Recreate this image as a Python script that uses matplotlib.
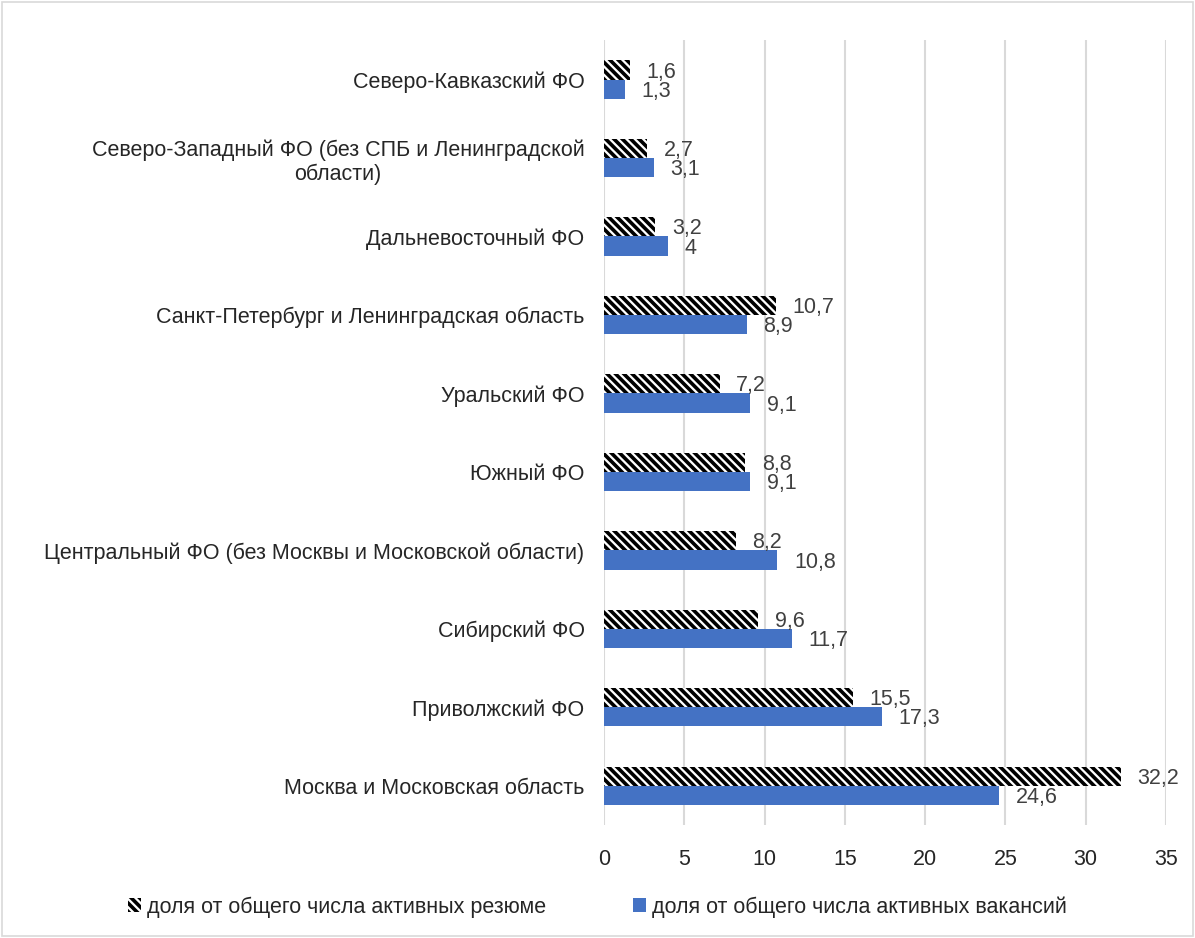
import numpy as np
import matplotlib.pyplot as plt
from matplotlib.patches import Rectangle

regions = [
    "Москва и Московская область",
    "Приволжский ФО",
    "Сибирский ФО",
    "Центральный ФО (без Москвы и Московской области)",
    "Южный ФО",
    "Уральский ФО",
    "Санкт-Петербург и Ленинградская область",
    "Дальневосточный ФО",
    "Северо-Западный ФО (без СПБ и Ленинградской\nобласти)",
    "Северо-Кавказский ФО",
]
resumes = [32.2, 15.5, 9.6, 8.2, 8.8, 7.2, 10.7, 3.2, 2.7, 1.6]
vacancies = [24.6, 17.3, 11.7, 10.8, 9.1, 9.1, 8.9, 4.0, 3.1, 1.3]
xticks = [0, 5, 10, 15, 20, 25, 30, 35]

plt.rcParams['font.family'] = ['Liberation Sans', 'DejaVu Sans']
plt.rcParams['hatch.linewidth'] = 2.6

fig = plt.figure(figsize=(11.95, 9.38), dpi=100)
ax = fig.add_axes([0.5054, 0.1205, 0.4703, 0.8365])
fig.patches.append(Rectangle((0.002, 0.002), 0.996, 0.996, transform=fig.transFigure,
                             fill=False, edgecolor='#d9d9d9', linewidth=1.2))

y = np.arange(len(regions))
h = 0.245
b1 = ax.barh(y + h / 2, resumes, height=h, color='white', edgecolor='black',
             hatch='\\\\\\\\', linewidth=0, label='доля от общего числа активных резюме')
b2 = ax.barh(y - h / 2, vacancies, height=h, color='#4472C4', linewidth=0,
             label='доля от общего числа активных вакансий')

fmt = lambda v: ('%g' % v).replace('.', ',')
for bars, vals in ((b1, resumes), (b2, vacancies)):
    for rect, v in zip(bars, vals):
        ax.annotate(fmt(v), (rect.get_width(), rect.get_y() + rect.get_height() / 2),
                    xytext=(12, -1.5), textcoords='offset points', ha='left', va='center',
                    fontsize=15.5, color='#404040')

ax.set_xlim(0, 35)
ax.set_ylim(-0.5, len(regions) - 0.5)
ax.set_xticks(xticks)
ax.set_xticklabels([str(t) for t in xticks], fontsize=15.5, color='#262626')
ax.set_yticks(y)
ax.set_yticklabels(regions, fontsize=15.5, color='#262626', multialignment='center')
ax.tick_params(length=0, pad=14)
ax.tick_params(axis='x', pad=17)
ax.grid(axis='x', color='#d9d9d9', linewidth=1.5)
ax.set_axisbelow(True)
for s in ax.spines.values():
    s.set_visible(False)

fig.legend(handles=[b1, b2], loc='center', bbox_to_anchor=(0.5, 0.033), ncol=2,
           frameon=False, fontsize=15.5, handlelength=0.6, handleheight=0.6,
           handletextpad=0.3, columnspacing=4.0, labelcolor='#262626')

fig.savefig('out.png', dpi=100)
